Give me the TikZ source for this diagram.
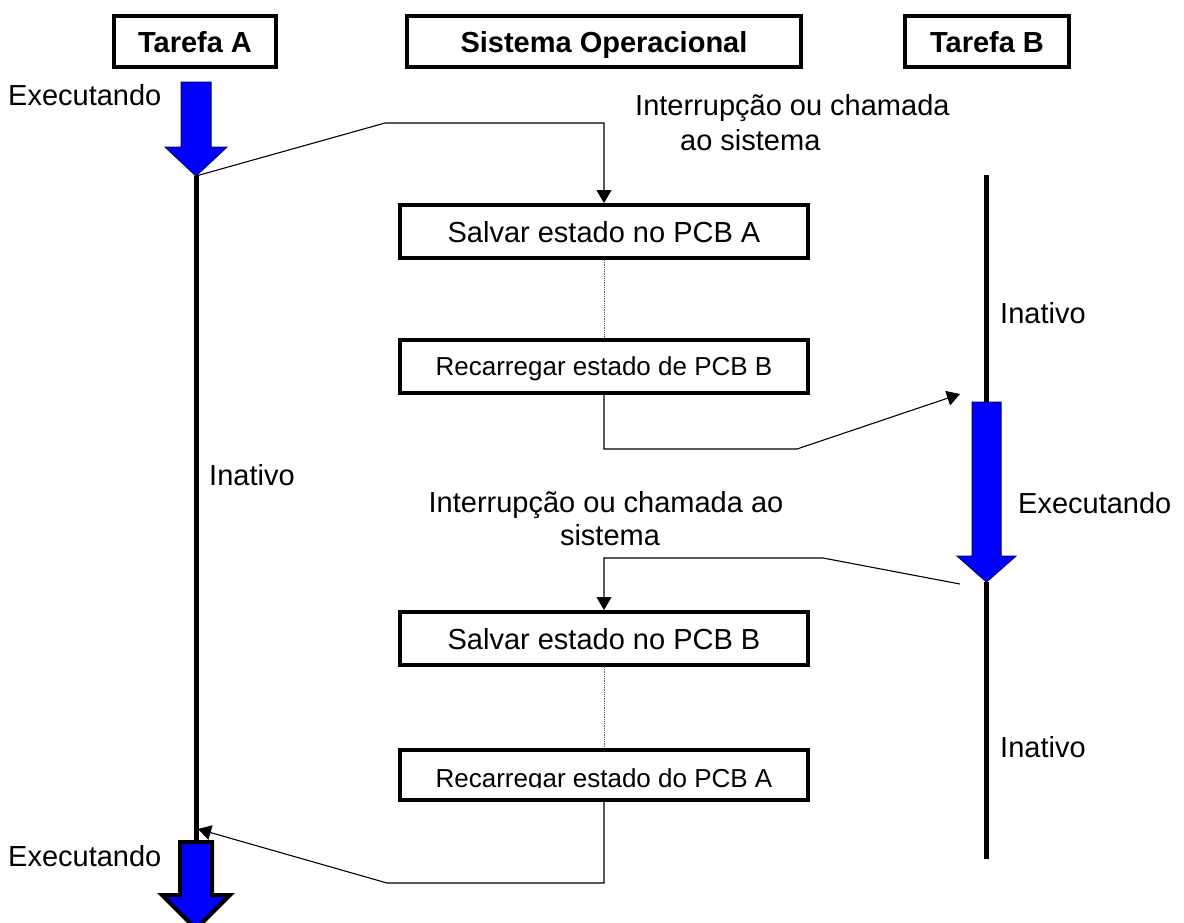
\documentclass[tikz,border=0pt]{standalone}
\usepackage{fontspec}
\setmainfont{Liberation Sans}
\usetikzlibrary{arrows.meta}
\definecolor{runblue}{RGB}{0,0,255}
\definecolor{runedge}{RGB}{0,0,110}
\newcommand\lblfont{\fontsize{29}{34}\selectfont}
\newcommand\smallboxfont{\fontsize{26}{31}\selectfont}
\begin{document}
\begin{tikzpicture}[x=1pt,y=-1pt,
  titlebox/.style={draw, line width=4pt, font=\lblfont\bfseries,
    minimum height=51pt, inner sep=0pt, text height=21pt, text depth=0pt},
  opbox/.style={draw, line width=4pt, minimum width=408pt,
    minimum height=53pt, inner sep=0pt, font=\lblfont,
    text height=21pt, text depth=0pt},
  smalltext/.style={font=\smallboxfont, text height=18.7pt},
  timeline/.style={line width=5pt},
  flow/.style={line width=1.1pt, -{Triangle[length=13pt,width=15pt]}},
  link/.style={densely dotted, line width=0.8pt, black!60},
  lbl/.style={font=\lblfont, inner sep=0pt, anchor=base west},
  runarrow/.style={fill=runblue, draw=runedge, line width=1pt, line join=miter}]

\useasboundingbox (0,0) rectangle (1184,922);
\clip (0,0) rectangle (1184,922);

% column headers
\node[titlebox, minimum width=162pt] (tA) at (195,41.5) {Tarefa A};
\node[titlebox, minimum width=394pt] (so) at (604,41.5) {Sistema Operacional};
\node[titlebox, minimum width=164pt] (tB) at (987,41.5) {Tarefa B};

% operating system steps
\node[opbox] (sA) at (604,231.5) {Salvar estado no PCB A};
\node[opbox, smalltext] (rB) at (604,366.5) {Recarregar estado de PCB B};
\node[opbox] (sB) at (604,638.5) {Salvar estado no PCB B};
\node[opbox, minimum height=50pt] (rA) at (604,775) {};
\begin{scope}
  \clip (rA.north west) rectangle (rA.east |- 0,787);
  \node[font=\smallboxfont, inner sep=0pt, anchor=base] (rAtext) at (604,787)
    {Recarregar estado do PCB A};
\end{scope}

% timeline anchor points
\coordinate (aTip) at (196,176);
\coordinate (aBot) at (196,842);
\coordinate (bTop) at (986.5,175);
\coordinate (bRun) at (986.5,403);
\coordinate (bTip) at (986.5,582);
\coordinate (bEnd) at (986.5,859);

% task timelines
\draw[timeline] (aTip) -- (aBot);
\draw[timeline] (bTop) -- (bRun);
\draw[timeline] (bTip) -- (bEnd);

% running phases
\draw[runarrow] (181,82) -- (211,82) -- (211,147) -- (227,147) -- (aTip)
  -- (165,147) -- (181,147) -- cycle;
\draw[runarrow] (972,402) -- (1001,402) -- (1001,556) -- (1016,556) -- (bTip)
  -- (957,556) -- (972,556) -- cycle;
\draw[fill=runblue, draw=black, line width=4pt, line join=miter]
  (180,842) -- (212,842) -- (212,895) -- (230,895) -- (196,929)
  -- (162,895) -- (180,895) -- cycle;

% context switch flow
\coordinate (k1) at (385,123);
\coordinate (k2) at (797,449);
\coordinate (kB) at (960,394);
\coordinate (kB2) at (960,584);
\coordinate (k3) at (823,558);
\coordinate (k4) at (387,883);
\coordinate (aIn) at (198,829);

\draw[flow] (aTip) -- (k1) -| (sA.north);
\draw[link] (sA.south) -- (rB.north);
\draw[flow] (rB.south) |- (k2) -- (kB);
\draw[flow] (kB2) -- (k3) -| (sB.north);
\draw[link] (sB.south) -- (rA.north);
\draw[flow] (rA.south) |- (k4) -- (aIn);

% labels
\node[lbl] (exA1) at (8,105) {Executando};
\node[lbl] (inA) at (209,485) {Inativo};
\node[lbl] (exA2) at (8,866) {Executando};
\node[lbl] (inB1) at (1000,323) {Inativo};
\node[lbl] (exB) at (1018,513) {Executando};
\node[lbl] (inB2) at (1000,757) {Inativo};
\node[lbl] (irq1a) at (635,115) {Interrupção ou chamada};
\node[lbl] (irq1b) at (680,150) {ao sistema};
\node[lbl, anchor=base] (irq2a) at (606,512) {Interrupção ou chamada ao};
\node[lbl, anchor=base] (irq2b) at (610,545) {sistema};
\end{tikzpicture}
\end{document}
